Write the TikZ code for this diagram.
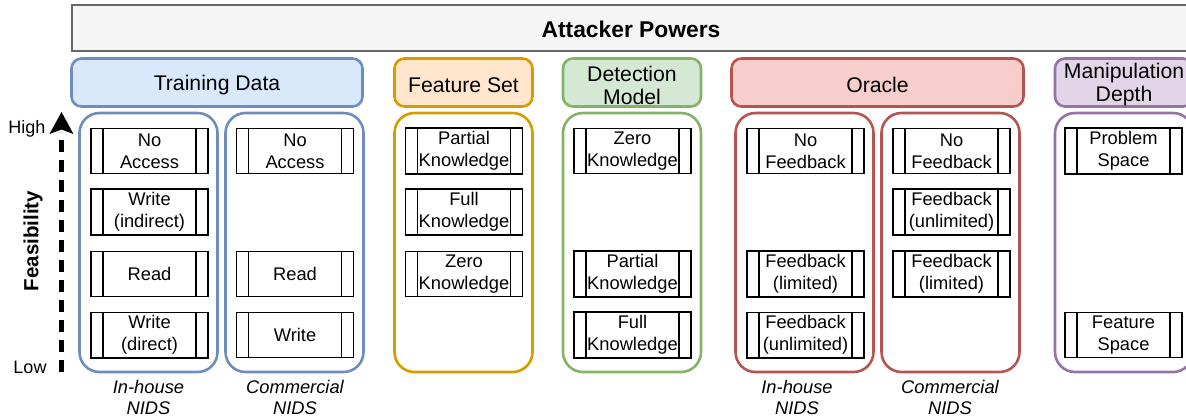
\documentclass[tikz,border=0pt]{standalone}
\usepackage{fontspec}
\setmainfont{Liberation Sans}
\usetikzlibrary{arrows.meta,positioning}
\definecolor{tdfill}{HTML}{DAE8FC}\definecolor{tdline}{HTML}{6C8EBF}
\definecolor{fsfill}{HTML}{FFE6CC}\definecolor{fsline}{HTML}{D79B00}
\definecolor{dmfill}{HTML}{D5E8D4}\definecolor{dmline}{HTML}{82B366}
\definecolor{orfill}{HTML}{F8CECC}\definecolor{orline}{HTML}{B85450}
\definecolor{mdfill}{HTML}{E1D5E7}\definecolor{mdline}{HTML}{9673A6}
\definecolor{bannerfill}{HTML}{F5F5F5}\definecolor{bannerline}{HTML}{666666}
\tikzset{
  banner/.style={draw=bannerline, fill=bannerfill, line width=1.3pt, minimum width=1118pt, minimum height=46pt},
  head/.style={draw, rounded corners=10pt, line width=2.6pt, minimum height=48pt},
  headtext/.style={yshift=-2.5pt, align=center, font=\fontsize{21.2}{23}\selectfont},
  column/.style={draw, rounded corners=20pt, line width=2.6pt, minimum width=138pt, minimum height=259pt},
  power/.style={draw, line width=1.3pt, minimum width=117pt, minimum height=45pt, align=center, font=\fontsize{18.3}{22}\selectfont,
    path picture={\draw[line width=1.3pt] ([xshift=12pt]path picture bounding box.north west) -- ([xshift=12pt]path picture bounding box.south west);
                  \draw[line width=1.3pt] ([xshift=-12pt]path picture bounding box.north east) -- ([xshift=-12pt]path picture bounding box.south east);}},
  nids/.style={align=center, font=\itshape\fontsize{18.3}{21}\selectfont},
  level/.style={font=\fontsize{18}{20}\selectfont}
}
\begin{document}
\begin{tikzpicture}[x=1pt,y=-1pt]
\useasboundingbox (0,0) rectangle (1186,416);
\clip (0,0) rectangle (1186,416);
% banner
\node[banner, label={[yshift=-1.5pt, font=\bfseries\fontsize{22.8}{24}\selectfont]center:Attacker Powers}] (powers) at (631,28) {};
% headers
\node[head, fill=tdfill, draw=tdline, minimum width=291pt, label={[headtext]center:Training Data}] (tdhead) at (217,82.5) {};
\node[head, fill=fsfill, draw=fsline, minimum width=138pt, label={[headtext]center:Feature Set}] (fshead) at (463.5,82.5) {};
\node[head, fill=dmfill, draw=dmline, minimum width=138pt, label={[headtext]center:Detection\\Model}] (dmhead) at (632,82.5) {};
\node[head, fill=orfill, draw=orline, minimum width=292pt, label={[headtext]center:Oracle}] (orhead) at (877.5,82.5) {};
\node[head, fill=mdfill, draw=mdline, minimum width=138pt, label={[headtext]center:Manipulation\\Depth}] (mdhead) at (1124,82.5) {};
% columns
\node[column, draw=tdline] (tdin) at (148.5,242.5) {};
\node[column, draw=tdline] (tdcom) at (294.5,242.5) {};
\node[column, draw=fsline] (fscol) at (463.5,242.5) {};
\node[column, draw=dmline] (dmcol) at (632,242.5) {};
\node[column, draw=orline] (orin) at (804.5,242.5) {};
\node[column, draw=orline] (orcom) at (950.5,242.5) {};
\node[column, draw=mdline] (mdcol) at (1124,242.5) {};
% training data
\node[power] (tdinA) at (149.5,151) {No\\Access};
\node[power] (tdinB) at (149.5,212) {Write\\(indirect)};
\node[power] (tdinC) at (149.5,274) {Read};
\node[power] (tdinD) at (149.5,335) {Write\\(direct)};
\node[power] (tdcomA) at (295,151) {No\\Access};
\node[power] (tdcomC) at (295,274) {Read};
\node[power] (tdcomD) at (295,335) {Write};
% feature set
\node[power] (fsA) at (464,151) {Partial\\Knowledge};
\node[power] (fsB) at (464,212) {Full\\Knowledge};
\node[power] (fsC) at (464,274) {Zero\\Knowledge};
% detection model
\node[power] (dmA) at (632.5,151) {Zero\\Knowledge};
\node[power] (dmC) at (632.5,274) {Partial\\Knowledge};
\node[power] (dmD) at (632.5,335) {Full\\Knowledge};
% oracle
\node[power] (orinA) at (805.5,151) {No\\Feedback};
\node[power] (orinC) at (805.5,274) {Feedback\\(limited)};
\node[power] (orinD) at (805.5,335) {Feedback\\(unlimited)};
\node[power] (orcomA) at (951.5,151) {No\\Feedback};
\node[power] (orcomB) at (951.5,212) {Feedback\\(unlimited)};
\node[power] (orcomC) at (951.5,274) {Feedback\\(limited)};
% manipulation depth
\node[power] (mdA) at (1123.5,151) {Problem\\Space};
\node[power] (mdD) at (1123.5,335) {Feature\\Space};
% nids labels
\node[nids] (tdinlab) at (148.5,397.5) {In-house\\NIDS};
\node[nids] (tdcomlab) at (295,397.5) {Commercial\\NIDS};
\node[nids] (orinlab) at (797,397.5) {In-house\\NIDS};
\node[nids] (orcomlab) at (950,397.5) {Commercial\\NIDS};
% feasibility axis
\coordinate (low) at (61.5,372);
\coordinate (tipbase) at (61.5,132);
\coordinate (high) at (61.5,112);
\draw[line width=5pt, dash pattern=on 12pt off 8pt] (low) -- (tipbase);
\fill (high) -- ++(12,22) -- ++(-12,-4.5) -- ++(-12,4.5) -- cycle;
\node[level] (highlab) at (27,129) {High};
\node[level] (lowlab) at (30,367) {Low};
\node[rotate=90, font=\bfseries\fontsize{20.5}{24}\selectfont] (feas) at (33,241) {Feasibility};
\end{tikzpicture}
\end{document}
